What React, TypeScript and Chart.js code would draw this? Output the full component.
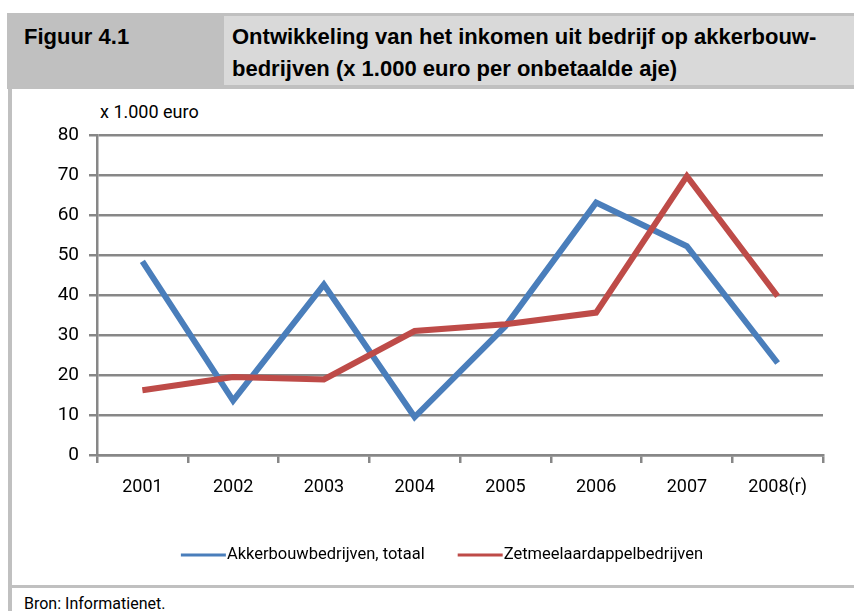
import React, { useEffect, useRef } from "react";
import { Chart, registerables } from "chart.js";

Chart.register(...registerables);

const categories = ["2001", "2002", "2003", "2004", "2005", "2006", "2007", "2008(r)"];
const akkerbouwTotaal = [48.4, 13.6, 42.6, 9.5, 32.2, 63.1, 52.2, 23.0];
const zetmeelaardappel = [16.2, 19.5, 18.9, 31.0, 32.7, 35.6, 69.7, 39.7];
const seriesLabels = ["Akkerbouwbedrijven, totaal", "Zetmeelaardappelbedrijven"];
const yTicks = [0, 10, 20, 30, 40, 50, 60, 70, 80];

const NARROW = 'Roboto, "Liberation Sans", sans-serif';
const BOLD = '"Liberation Sans", Arial, sans-serif';
const GRID = "#878787";

const lineLegend = {
  id: "lineLegend",
  afterDraw(chart: any, _args: any, opts: any) {
    const ctx = chart.ctx;
    ctx.save();
    ctx.font = opts.font;
    ctx.textBaseline = "middle";
    ctx.textAlign = "left";
    const items = chart.data.datasets.map((ds: any) => ({
      label: ds.label,
      color: ds.borderColor,
      w: ctx.measureText(ds.label).width,
    }));
    const total =
      items.reduce((s: number, it: any) => s + opts.lineLength + opts.gap + it.w, 0) +
      opts.spacing * (items.length - 1);
    let x = opts.centerX - total / 2;
    items.forEach((it: any) => {
      ctx.strokeStyle = it.color;
      ctx.lineWidth = opts.lineWidth;
      ctx.beginPath();
      ctx.moveTo(x, opts.y);
      ctx.lineTo(x + opts.lineLength, opts.y);
      ctx.stroke();
      ctx.fillStyle = "#000";
      ctx.fillText(it.label, x + opts.lineLength + opts.gap, opts.y);
      x += opts.lineLength + opts.gap + it.w + opts.spacing;
    });
    ctx.restore();
  },
};

export default function App() {
  const ref = useRef<HTMLCanvasElement | null>(null);

  useEffect(() => {
    if (!ref.current) return;
    const chart = new Chart(ref.current, {
      type: "line",
      data: {
        labels: categories,
        datasets: [
          {
            label: seriesLabels[0],
            data: akkerbouwTotaal,
            borderColor: "#4a7ebb",
            backgroundColor: "#4a7ebb",
            borderWidth: 6,
            pointRadius: 0,
            tension: 0,
            order: 1,
          },
          {
            label: seriesLabels[1],
            data: zetmeelaardappel,
            borderColor: "#be4b48",
            backgroundColor: "#be4b48",
            borderWidth: 6,
            pointRadius: 0,
            tension: 0,
            order: 0,
          },
        ],
      },
      plugins: [lineLegend],
      options: {
        animation: false,
        responsive: false,
        maintainAspectRatio: false,
        layout: { padding: { left: 0, right: 31, top: 135, bottom: 116 } },
        plugins: {
          legend: { display: false },
          tooltip: { enabled: false },
          title: { display: false },
          lineLegend: {
            font: `16.5px ${NARROW}`,
            lineLength: 45,
            gap: 1,
            spacing: 33,
            lineWidth: 3,
            centerX: 442,
            y: 555,
          },
        } as any,
        scales: {
          x: {
            offset: true,
            afterFit: (s: any) => {
              s.height = 40;
            },
            grid: {
              offset: true,
              drawOnChartArea: false,
              drawTicks: true,
              tickLength: 8,
              color: GRID,
              lineWidth: 2.5,
            },
            border: { display: true, color: GRID, width: 2.5 },
            ticks: {
              color: "#000",
              font: { family: NARROW, size: 18 },
              padding: 14,
              maxRotation: 0,
              autoSkip: false,
            },
          },
          y: {
            min: 0,
            max: 80,
            afterFit: (s: any) => {
              s.width = 97;
            },
            afterBuildTicks: (s: any) => {
              s.ticks = yTicks.map((v) => ({ value: v }));
            },
            grid: {
              drawTicks: true,
              tickLength: 8,
              color: GRID,
              lineWidth: 2.5,
            },
            border: { display: true, color: GRID, width: 2.5 },
            ticks: {
              color: "#000",
              font: { family: NARROW, size: 19 },
              padding: 10,
            },
          },
        },
      },
    });
    return () => chart.destroy();
  }, []);

  const abs = (s: React.CSSProperties): React.CSSProperties => ({ position: "absolute", ...s });

  return (
    <div
      style={{
        position: "fixed",
        left: 0,
        top: 0,
        width: 854,
        height: 611,
        background: "#fff",
        overflow: "hidden",
      }}
    >
      <div style={abs({ left: 7, top: 13, width: 847, height: 76, background: "#c0c0c0" })} />
      <div style={abs({ left: 224, top: 16, width: 630, height: 69, background: "#d9d9d9" })} />
      <div style={abs({ left: 8, top: 13, width: 4, height: 598, background: "#c0c0c0" })} />
      <div style={abs({ left: 8, top: 585, width: 846, height: 3, background: "#c0c0c0" })} />
      <div
        style={abs({
          left: 24,
          top: 21.4,
          font: `bold 22px ${BOLD}`,
          lineHeight: "32px",
          color: "#000",
          whiteSpace: "nowrap",
        })}
      >
        Figuur 4.1
      </div>
      <div
        style={abs({
          left: 232,
          top: 21.4,
          font: `bold 22px ${BOLD}`,
          lineHeight: "32px",
          color: "#000",
          whiteSpace: "nowrap",
        })}
      >
        Ontwikkeling van het inkomen uit bedrijf op akkerbouw-
        <br />
        bedrijven (x 1.000 euro per onbetaalde aje)
      </div>
      <div
        style={abs({
          left: 100,
          top: 102,
          font: `18px ${NARROW}`,
          lineHeight: "20px",
          color: "#000",
          whiteSpace: "nowrap",
        })}
      >
        x 1.000 euro
      </div>
      <div
        style={abs({
          left: 24,
          top: 594,
          font: `16px ${NARROW}`,
          lineHeight: "20px",
          color: "#000",
          whiteSpace: "nowrap",
        })}
      >
        Bron: Informatienet.
      </div>
      <canvas ref={ref} width={854} height={611} style={abs({ left: 0, top: 0, width: 854, height: 611 })} />
    </div>
  );
}
